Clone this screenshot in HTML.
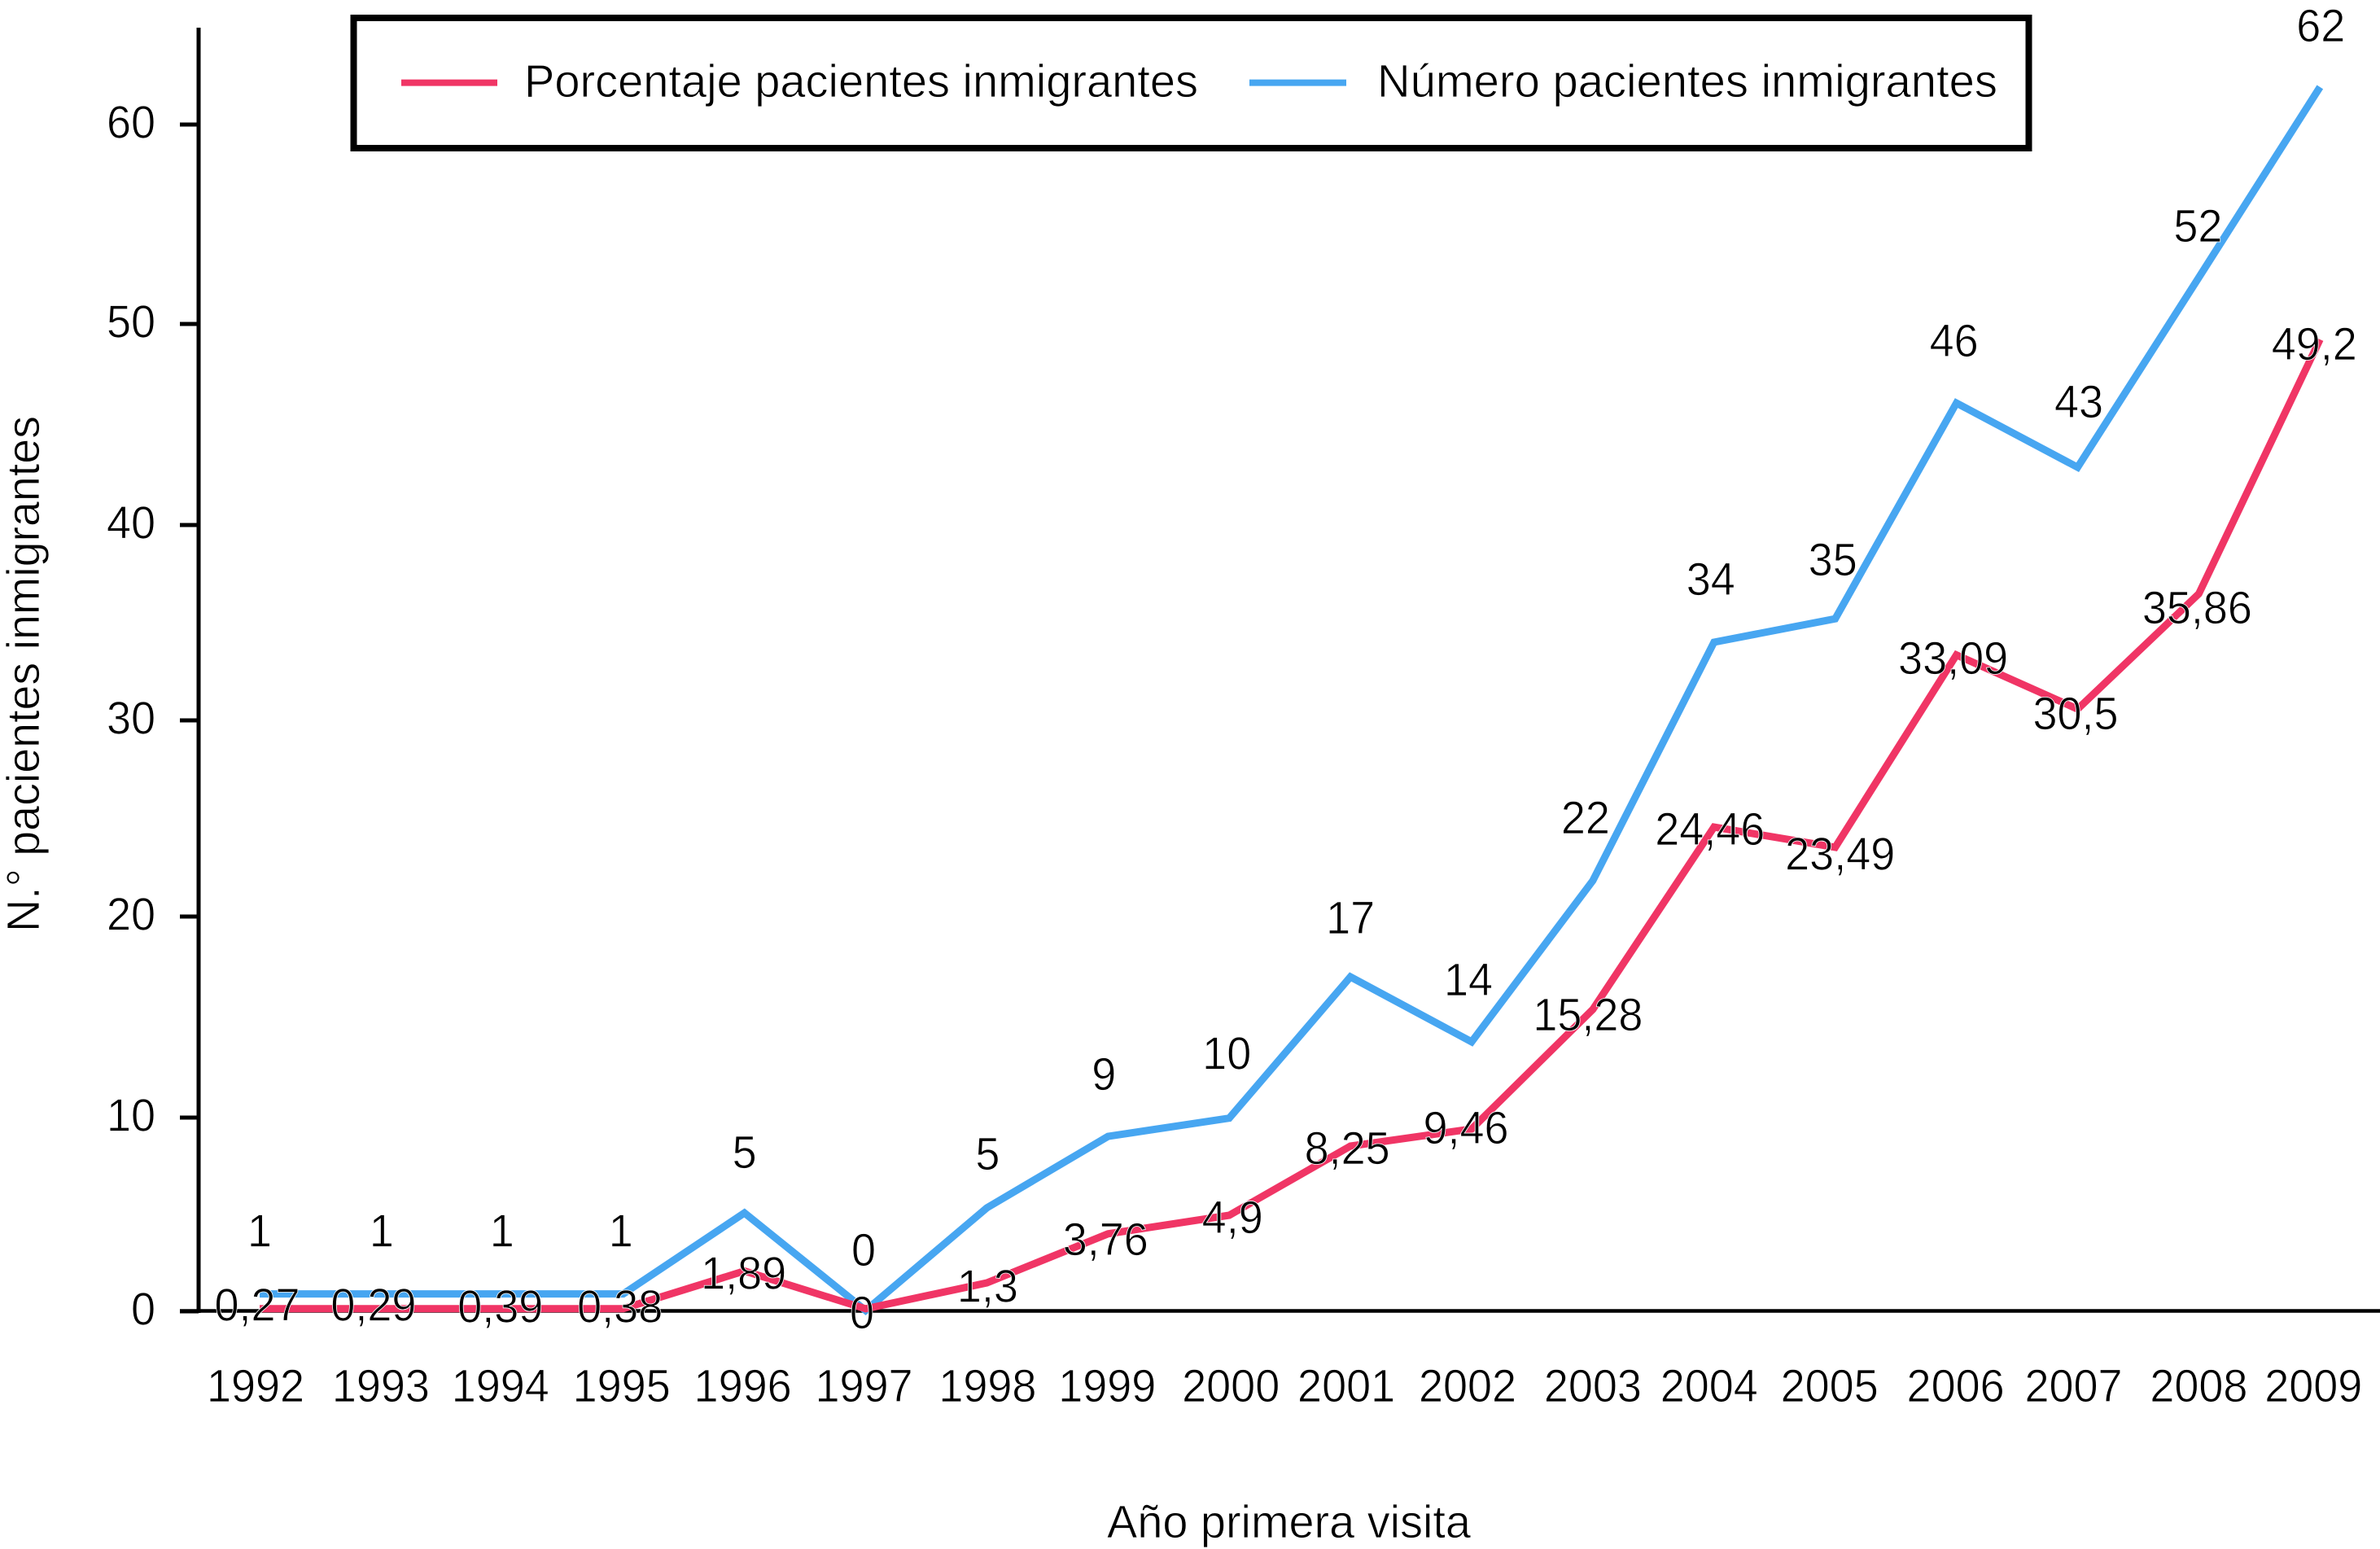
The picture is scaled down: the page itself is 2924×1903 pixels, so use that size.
<!DOCTYPE html>
<html lang="es">
<head>
<meta charset="utf-8">
<title>Pacientes inmigrantes por año de primera visita</title>
<style>
  html, body { margin: 0; padding: 0; background: #fff; }
  svg { display: block; }
  text { font-family: "Liberation Sans", sans-serif; font-size: 57px; fill: #000; stroke: #fff; stroke-width: 0.8px; }
</style>
</head>
<body>
<svg id="chart" xmlns="http://www.w3.org/2000/svg" width="2924" height="1903" viewBox="0 0 2924 1903">
  <rect x="0" y="0" width="2924" height="1903" fill="#fff"/>
  <g id="axes">
    <line x1="244" y1="34" x2="244" y2="1613" stroke="#000" stroke-width="5"/>
    <line x1="221" y1="1610.5" x2="2924" y2="1610.5" stroke="#000" stroke-width="4.5"/>
    <text transform="translate(48 1145) rotate(-90)" textLength="634" lengthAdjust="spacingAndGlyphs">N.° pacientes inmigrantes</text>
    <text x="1360" y="1889" textLength="447" lengthAdjust="spacingAndGlyphs">Año primera visita</text>
  </g>
  <g id="series"></g>
  <g id="labels"></g>
  <g id="legend">
    <rect x="434.5" y="22" width="2058" height="160" fill="#fff" stroke="#000" stroke-width="8"/>
    <line x1="493" y1="101.6" x2="611" y2="101.6" stroke="#f03565" stroke-width="8"/>
    <text x="644" y="119" textLength="828" lengthAdjust="spacingAndGlyphs">Porcentaje pacientes inmigrantes</text>
    <line x1="1535" y1="101.6" x2="1654" y2="101.6" stroke="#47a6f1" stroke-width="8"/>
    <text x="1692" y="119" textLength="762" lengthAdjust="spacingAndGlyphs">Número pacientes inmigrantes</text>
  </g>
</svg>
<script>
// ---- chart data ----
const years = ['1992','1993','1994','1995','1996','1997','1998','1999','2000','2001','2002','2003','2004','2005','2006','2007','2008','2009'];
const numeroValues = [0.9,0.9,0.9,0.9,5.08,0.04,5.34,9.03,9.97,17.0,13.77,21.83,34.0,35.2,46.07,42.87,52.33,61.88];
const porcentajeValues = [0.14,0.14,0.14,0.14,2.08,0.13,1.47,4.0,4.96,8.53,9.41,15.38,24.56,23.53,33.35,30.58,36.48,49.23];
const numeroLabels = ['1','1','1','1','5','0','5','9','10','17','14','22','34','35','46','43','52','62'];
const porcentajeLabels = ['0,27','0,29','0,39','0,38','1,89','0','1,3','3,76','4,9','8,25','9,46','15,28','24,46','23,49','33,09','30,5','35,86','49,2'];
const yTicks = [0,10,20,30,40,50,60];

// ---- layout: axis calibration and hand-placement nudges of the printed labels ----
const xStart = 319, xStep = 148.9;
const yAnchors = [1611,1373,1126,885,645,398,153];
const yearNudge = [-5,0,-2,-2,-2,-2,1,-1,2,-5,-5,0,-6,-7,-1,-5,0,-8];
const numeroNudgeX = [0,1,0,-3,0,-2.5,1,-5,-3,0,-4,-9,-4,-3,-3,1.5,-1,1];
const numeroNudgeY = [-58,-58,-58,-58,-55,-55,-47,-57,-60,-53,-57,-58,-58,-53,-57,-61,-44,-56];
const porcentajeNudgeX = [-3,-9,-2,-4,-1,-4.5,1,-3,4,-4,-7,-6,-5,6,-4,-2.5,-2,-7];
const porcentajeNudgeY = [15,15,17,17,22,24,23.5,26,22,22,18,26,22,27.5,23.5,25,36.5,25];
const glyphNarrowing = 0.947;

const NS = 'http://www.w3.org/2000/svg';

function xScale(i) {
  return xStart + xStep * i;
}
// Piecewise-linear y axis, matching the slightly uneven tick spacing of the original
function yScale(v) {
  let k = Math.floor(v / 10);
  if (k < 0) k = 0;
  if (k > yAnchors.length - 2) k = yAnchors.length - 2;
  const a = yAnchors[k], b = yAnchors[k + 1];
  return a + (v - k * 10) / 10 * (b - a);
}
function pointsFor(values) {
  return values.map(function (v, i) { return xScale(i).toFixed(1) + ',' + yScale(v).toFixed(1); }).join(' ');
}
// The original typeface is taller and narrower than Liberation Sans
function narrow(el) {
  el.setAttribute('textLength', (el.getComputedTextLength() * glyphNarrowing).toFixed(2));
  el.setAttribute('lengthAdjust', 'spacingAndGlyphs');
}

const axes = document.getElementById('axes');
const seriesGroup = document.getElementById('series');
const labelsGroup = document.getElementById('labels');

// y-axis ticks
yTicks.forEach(function (t) {
  const tick = document.createElementNS(NS, 'line');
  
  
  tick.setAttribute('x1', 221);
  tick.setAttribute('x2', 244);
  tick.setAttribute('y1', yScale(t));
  tick.setAttribute('y2', yScale(t));
  tick.setAttribute('stroke', '#000');
  tick.setAttribute('stroke-width', '5');
  axes.appendChild(tick);

  const label = document.createElementNS(NS, 'text');
  
  
  label.setAttribute('x', 191);
  label.setAttribute('y', yScale(t) + 16.5);
  label.setAttribute('text-anchor', 'end');
  label.textContent = String(t);
  axes.appendChild(label);
  narrow(label);
});

// x-axis labels
years.forEach(function (year, i) {
  const label = document.createElementNS(NS, 'text');
  
  
  label.setAttribute('x', xScale(i) + yearNudge[i]);
  label.setAttribute('y', 1722);
  label.setAttribute('text-anchor', 'middle');
  label.textContent = year;
  axes.appendChild(label);
  narrow(label);
});

// series lines
const numeroLine = document.createElementNS(NS, 'polyline');


numeroLine.setAttribute('points', pointsFor(numeroValues));
numeroLine.setAttribute('fill', 'none');
numeroLine.setAttribute('stroke', '#47a6f1');
numeroLine.setAttribute('stroke-width', '9');
numeroLine.setAttribute('stroke-linejoin', 'miter');
seriesGroup.appendChild(numeroLine);

const porcentajeLine = document.createElementNS(NS, 'polyline');


porcentajeLine.setAttribute('points', pointsFor(porcentajeValues));
porcentajeLine.setAttribute('fill', 'none');
porcentajeLine.setAttribute('stroke', '#f03565');
porcentajeLine.setAttribute('stroke-width', '9');
porcentajeLine.setAttribute('stroke-linejoin', 'miter');
seriesGroup.appendChild(porcentajeLine);

// printed values
numeroLabels.forEach(function (txt, i) {
  const label = document.createElementNS(NS, 'text');
  
  
  label.setAttribute('x', xScale(i) + numeroNudgeX[i]);
  label.setAttribute('y', yScale(numeroValues[i]) + numeroNudgeY[i]);
  label.setAttribute('text-anchor', 'middle');
  label.textContent = txt;
  labelsGroup.appendChild(label);
  narrow(label);
});
porcentajeLabels.forEach(function (txt, i) {
  const label = document.createElementNS(NS, 'text');
  
  
  label.setAttribute('x', xScale(i) + porcentajeNudgeX[i]);
  label.setAttribute('y', yScale(porcentajeValues[i]) + porcentajeNudgeY[i]);
  label.setAttribute('text-anchor', 'middle');
  label.textContent = txt;
  labelsGroup.appendChild(label);
  narrow(label);
});
</script>
</body>
</html>
